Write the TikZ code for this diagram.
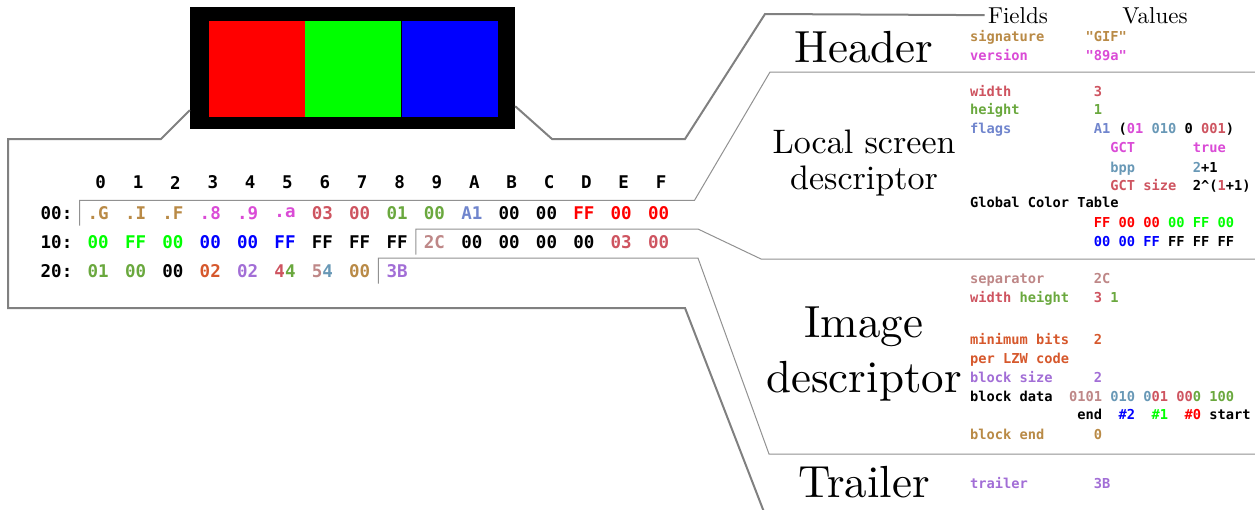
\documentclass[tikz,border=0pt]{standalone}
\usepackage{fontspec}
\setmonofont{DejaVu Sans Mono}
\newfontfamily\partfont{lmroman10-regular}[Extension=.otf]
\usetikzlibrary{positioning}

\definecolor{gifgold}{RGB}{185,138,70}
\definecolor{gifmagenta}{RGB}{218,75,214}
\definecolor{gifrose}{RGB}{206,84,96}
\definecolor{gifgreen}{RGB}{106,168,62}
\definecolor{gifslate}{RGB}{112,133,205}
\definecolor{gifsteel}{RGB}{104,152,182}
\definecolor{gifpink}{RGB}{190,135,135}
\definecolor{giforange}{RGB}{214,88,44}
\definecolor{gifpurple}{RGB}{162,110,214}
\definecolor{pixred}{RGB}{255,0,0}
\definecolor{pixgreen}{RGB}{0,255,0}
\definecolor{pixblue}{RGB}{0,0,255}
\definecolor{leadergray}{RGB}{128,128,128}
\definecolor{dividergray}{RGB}{145,145,145}

\newcommand{\hexfont}{\fontsize{17.5}{20}\selectfont\ttfamily\bfseries}
\newcommand{\fieldfont}{\fontsize{13.7}{16}\selectfont\ttfamily\bfseries}
\newcommand{\hx}[2]{\textcolor{#1}{#2}}
\newcommand{\skipcols}[1]{\hspace*{#1\fontcharwd\font`0}}

\begin{document}
\begin{tikzpicture}[x=1pt,y=-1pt,
    byte/.style={font=\hexfont,minimum width=36.96pt,minimum height=25pt,inner sep=0pt},
    rowlab/.style={font=\hexfont,inner sep=0pt},
    field/.style={font=\fieldfont,anchor=base west,inner sep=0pt},
    part/.style={font=\partfont\fontsize{45}{55}\selectfont,anchor=base,align=center,inner sep=0pt},
    colhead/.style={font=\partfont\fontsize{23}{26}\selectfont,anchor=base},
    leader/.style={draw=leadergray,line width=2pt},
    divider/.style={draw=dividergray,line width=1pt}]
  \useasboundingbox (0,0) rectangle (1255,509);

  % the 3x1 image
  \node[fill=black,minimum width=325pt,minimum height=122pt,inner sep=0pt] (img) at (352.5,68) {};
  \begin{scope}[every node/.style={minimum size=96pt,inner sep=0pt}]
    \node[fill=pixred] (pxr) at (257,69) {};
    \node[fill=pixgreen,right=0pt of pxr] (pxg) {};
    \node[fill=pixblue,right=0pt of pxg] (pxb) {};
  \end{scope}

  % hex dump, row 00
  \node[byte,text=gifgold] (b00) at (98.2,213) {.G};
  \node[byte,text=gifgold,right=0pt of b00] (b01) {.I};
  \node[byte,text=gifgold,right=0pt of b01] (b02) {.F};
  \node[byte,text=gifmagenta,right=0pt of b02] (b03) {.8};
  \node[byte,text=gifmagenta,right=0pt of b03] (b04) {.9};
  \node[byte,text=gifmagenta,right=0pt of b04] (b05) {.a};
  \node[byte,text=gifrose,right=0pt of b05] (b06) {03};
  \node[byte,text=gifrose,right=0pt of b06] (b07) {00};
  \node[byte,text=gifgreen,right=0pt of b07] (b08) {01};
  \node[byte,text=gifgreen,right=0pt of b08] (b09) {00};
  \node[byte,text=gifslate,right=0pt of b09] (b0A) {A1};
  \node[byte,right=0pt of b0A] (b0B) {00};
  \node[byte,right=0pt of b0B] (b0C) {00};
  \node[byte,text=pixred,right=0pt of b0C] (b0D) {FF};
  \node[byte,text=pixred,right=0pt of b0D] (b0E) {00};
  \node[byte,text=pixred,right=0pt of b0E] (b0F) {00};
  % row 10
  \node[byte,text=pixgreen,below=3.5pt of b00] (b10) {00};
  \node[byte,text=pixgreen,right=0pt of b10] (b11) {FF};
  \node[byte,text=pixgreen,right=0pt of b11] (b12) {00};
  \node[byte,text=pixblue,right=0pt of b12] (b13) {00};
  \node[byte,text=pixblue,right=0pt of b13] (b14) {00};
  \node[byte,text=pixblue,right=0pt of b14] (b15) {FF};
  \node[byte,right=0pt of b15] (b16) {FF};
  \node[byte,right=0pt of b16] (b17) {FF};
  \node[byte,right=0pt of b17] (b18) {FF};
  \node[byte,text=gifpink,right=0pt of b18] (b19) {2C};
  \node[byte,right=0pt of b19] (b1A) {00};
  \node[byte,right=0pt of b1A] (b1B) {00};
  \node[byte,right=0pt of b1B] (b1C) {00};
  \node[byte,right=0pt of b1C] (b1D) {00};
  \node[byte,text=gifrose,right=0pt of b1D] (b1E) {03};
  \node[byte,text=gifrose,right=0pt of b1E] (b1F) {00};
  % row 20
  \node[byte,text=gifgreen,below=3.5pt of b10] (b20) {01};
  \node[byte,text=gifgreen,right=0pt of b20] (b21) {00};
  \node[byte,right=0pt of b21] (b22) {00};
  \node[byte,text=giforange,right=0pt of b22] (b23) {02};
  \node[byte,text=gifpurple,right=0pt of b23] (b24) {02};
  \node[byte,right=0pt of b24] (b25) {\hx{gifrose}{4}\hx{gifgreen}{4}};
  \node[byte,right=0pt of b25] (b26) {\hx{gifpink}{5}\hx{gifsteel}{4}};
  \node[byte,text=gifgold,right=0pt of b26] (b27) {00};
  \node[byte,text=gifpurple,right=0pt of b27] (b28) {3B};
  % offsets and column heads
  \node[rowlab,left=7pt of b00] (r00) {00:};
  \node[rowlab,left=7pt of b10] (r10) {10:};
  \node[rowlab,left=7pt of b20] (r20) {20:};
  \node[byte,above=5pt of b00,xshift=2.5pt] (h0) {0};
  \node[byte,right=0pt of h0] (h1) {1};
  \node[byte,right=0pt of h1] (h2) {2};
  \node[byte,right=0pt of h2] (h3) {3};
  \node[byte,right=0pt of h3] (h4) {4};
  \node[byte,right=0pt of h4] (h5) {5};
  \node[byte,right=0pt of h5] (h6) {6};
  \node[byte,right=0pt of h6] (h7) {7};
  \node[byte,right=0pt of h7] (h8) {8};
  \node[byte,right=0pt of h8] (h9) {9};
  \node[byte,right=0pt of h9] (hA) {A};
  \node[byte,right=0pt of hA] (hB) {B};
  \node[byte,right=0pt of hB] (hC) {C};
  \node[byte,right=0pt of hC] (hD) {D};
  \node[byte,right=0pt of hD] (hE) {E};
  \node[byte,right=0pt of hE] (hF) {F};

  % block names
  \node[part] (hdr) at (864,62) {Header};
  \node[part,font=\partfont\fontsize{34}{36}\selectfont] (lsd) at (864,189) {Local screen\\descriptor};
  \node[part] (imd) at (864,392) {Image\\descriptor};
  \node[part] (trl) at (864,497) {Trailer};
  \node[colhead] (fld) at (1018,23) {Fields};
  \node[colhead] (val) at (1155,23) {Values};

  % fields and values
  \node[field] (sig) at (970,41) {\hx{gifgold}{signature~~~~~"GIF"}};
  \node[field] (ver) at (970,60) {\hx{gifmagenta}{version~~~~~~~"89a"}};
  \node[field] (wid) at (970,96) {\hx{gifrose}{width~~~~~~~~~~3}};
  \node[field] (hgt) at (970,114) {\hx{gifgreen}{height~~~~~~~~~1}};
  \node[field] (flg) at (970,133) {\hx{gifslate}{flags~~~~~~~~~~A1}~(\hx{gifmagenta}{01}~\hx{gifsteel}{010}~0~\hx{gifrose}{001})};
  \node[field] (gct) at (970,152) {\skipcols{17}\hx{gifmagenta}{GCT~~~~~~~true}};
  \node[field] (bpp) at (970,172) {\skipcols{17}\hx{gifsteel}{bpp~~~~~~~2}+1};
  \node[field] (gsz) at (970,190) {\skipcols{17}\hx{gifrose}{GCT~size}~~2\textasciicircum(\hx{gifrose}{1}+1)};
  \node[field] (gtb) at (970,207) {Global~Color~Table};
  \node[field] (gc1) at (970,227) {\skipcols{15}\hx{pixred}{FF~00~00}~\hx{pixgreen}{00~FF~00}};
  \node[field] (gc2) at (970,246) {\skipcols{15}\hx{pixblue}{00~00~FF}~FF~FF~FF};
  \node[field] (sep) at (970,283) {\hx{gifpink}{separator~~~~~~2C}};
  \node[field] (wh) at (970,302) {\hx{gifrose}{width}~\hx{gifgreen}{height}~~~\hx{gifrose}{3}~\hx{gifgreen}{1}};
  \node[field] (mbt) at (970,344) {\hx{giforange}{minimum~bits~~~2}};
  \node[field] (lzw) at (970,363) {\hx{giforange}{per~LZW~code}};
  \node[field] (bsz) at (970,382) {\hx{gifpurple}{block~size~~~~~2}};
  \node[field] (bdt) at (970,401) {block~data~~\hx{gifpink}{0101}~\hx{gifsteel}{010}~\hx{gifsteel}{0}\hx{gifrose}{01}~\hx{gifrose}{00}\hx{gifgreen}{0}~\hx{gifgreen}{100}};
  \node[field] (cds) at (970,419) {\skipcols{13}end~~\hx{pixblue}{\#2}~~\hx{pixgreen}{\#1}~~\hx{pixred}{\#0}~start};
  \node[field] (bnd) at (970,439) {\hx{gifgold}{block~end~~~~~~0}};
  \node[field] (tlr) at (970,488) {\hx{gifpurple}{trailer~~~~~~~~3B}};

  % leaders from the image
  \coordinate (cut) at (764,512);
  \draw[leader] ([yshift=19pt]img.south west) -- (161,139) -- (8,139) -- (8,308) -- (685,308) -- (cut);
  \draw[leader] ([yshift=23pt]img.south east) -- (552,139) -- (685,139) -- (765,14) -- (fld.west);

  % block dividers
  \coordinate (d1) at (1255,72);
  \coordinate (d2) at (1255,259);
  \coordinate (d3) at (1255,454);
  \draw[divider] (b00.south west) -- (b00.north west) -- ++(615,0) -- (770,72) -- (d1);
  \draw[divider] (b19.south west) -- (b19.north west) -- ++(282.6,0) -- (761,259) -- (d2);
  \draw[divider] (b28.south west) -- (b28.north west) -- ++(319.6,0) -- (769,454) -- (d3);
\end{tikzpicture}
\end{document}
